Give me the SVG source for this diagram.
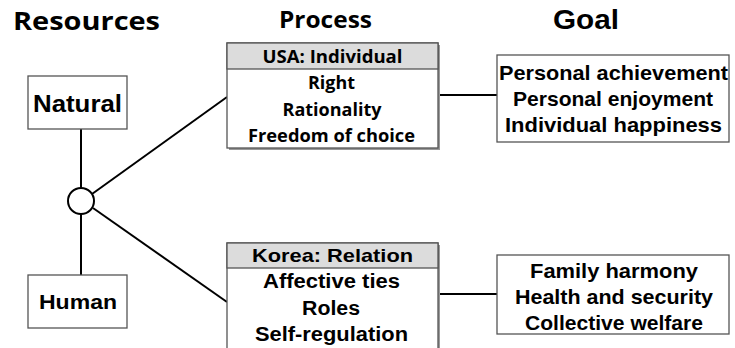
<svg xmlns="http://www.w3.org/2000/svg" width="735" height="348" viewBox="0 0 735 348">
<style>
.h{font-family:"Open Sans","DejaVu Sans",sans-serif;font-weight:bold;fill:#000}
.a{font-family:"Liberation Sans",Arial,sans-serif;font-weight:bold;fill:#000;text-anchor:middle}
.c{font-family:"Open Sans","DejaVu Sans",sans-serif;font-weight:bold;fill:#000;text-anchor:middle;font-size:18px}
.box{fill:#fff;stroke:#555;stroke-width:1.3}
.hdr{fill:#dcdcdc;stroke:#555;stroke-width:1.3}
.shadow{fill:#999}
.ln{stroke:#000;stroke-width:2;fill:none}
</style>
<g id="headings">
<text class="h" x="13" y="30" font-size="25" textLength="147" lengthAdjust="spacingAndGlyphs">Resources</text>
<text class="h" x="279" y="28" font-size="23" textLength="93" lengthAdjust="spacingAndGlyphs">Process</text>
<text class="a" x="553" y="29" font-size="27" style="text-anchor:start" textLength="66" lengthAdjust="spacingAndGlyphs">Goal</text>
</g>
<g id="connectors">
<line class="ln" x1="81" y1="129" x2="81" y2="188"/>
<line class="ln" x1="81" y1="214" x2="81" y2="275"/>
<line class="ln" x1="92" y1="194" x2="227" y2="97"/>
<line class="ln" x1="93" y1="208" x2="227" y2="302"/>
<line class="ln" x1="438" y1="95" x2="497" y2="95"/>
<line class="ln" x1="438" y1="294" x2="497" y2="294"/>
</g>
<g id="natural">
<rect class="box" x="28" y="76" width="99" height="53"/>
<text class="a" x="77.5" y="112" font-size="23" textLength="89" lengthAdjust="spacingAndGlyphs">Natural</text>
</g>
<g id="human">
<rect class="box" x="28" y="275" width="99" height="53"/>
<text class="a" x="78" y="309" font-size="20" textLength="78" lengthAdjust="spacingAndGlyphs">Human</text>
</g>
<g id="junction">
<circle cx="81" cy="201" r="13" fill="#fff" stroke="#000" stroke-width="2"/>
</g>
<g id="usa">
<rect class="shadow" x="229" y="45" width="211" height="105"/>
<rect class="box" x="227" y="43" width="211" height="105"/>
<rect class="hdr" x="227" y="43" width="211" height="26"/>
<text class="c" x="332.5" y="63" font-size="17" textLength="140" lengthAdjust="spacingAndGlyphs">USA: Individual</text>
<text class="c" x="331.5" y="89" textLength="47" lengthAdjust="spacingAndGlyphs">Right</text>
<text class="c" x="332" y="116" textLength="99" lengthAdjust="spacingAndGlyphs">Rationality</text>
<text class="c" x="331.5" y="142" textLength="167" lengthAdjust="spacingAndGlyphs">Freedom of choice</text>
</g>
<g id="korea">
<rect class="shadow" x="229" y="245" width="211" height="110"/>
<rect class="box" x="227" y="243" width="211" height="110"/>
<rect class="hdr" x="227" y="243" width="211" height="25"/>
<text class="a" x="332.5" y="262" font-size="19" textLength="161" lengthAdjust="spacingAndGlyphs">Korea: Relation</text>
<text class="a" x="331.5" y="288" font-size="20" textLength="137" lengthAdjust="spacingAndGlyphs">Affective ties</text>
<text class="a" x="331" y="315" font-size="20" textLength="58" lengthAdjust="spacingAndGlyphs">Roles</text>
<text class="a" x="331.5" y="341" font-size="20" textLength="153" lengthAdjust="spacingAndGlyphs">Self-regulation</text>
</g>
<g id="goal-usa">
<rect class="box" x="497" y="55" width="232" height="87"/>
<text class="a" x="613.5" y="80" font-size="21" textLength="229" lengthAdjust="spacingAndGlyphs">Personal achievement</text>
<text class="a" x="613" y="106" font-size="21" textLength="200" lengthAdjust="spacingAndGlyphs">Personal enjoyment</text>
<text class="a" x="613.5" y="132" font-size="21" textLength="217" lengthAdjust="spacingAndGlyphs">Individual happiness</text>
</g>
<g id="goal-korea">
<rect class="box" x="497" y="255" width="232" height="79"/>
<text class="a" x="614" y="278" font-size="21" textLength="168" lengthAdjust="spacingAndGlyphs">Family harmony</text>
<text class="a" x="614" y="304" font-size="21" textLength="198" lengthAdjust="spacingAndGlyphs">Health and security</text>
<text class="a" x="614" y="330" font-size="21" textLength="178" lengthAdjust="spacingAndGlyphs">Collective welfare</text>
</g>
</svg>
